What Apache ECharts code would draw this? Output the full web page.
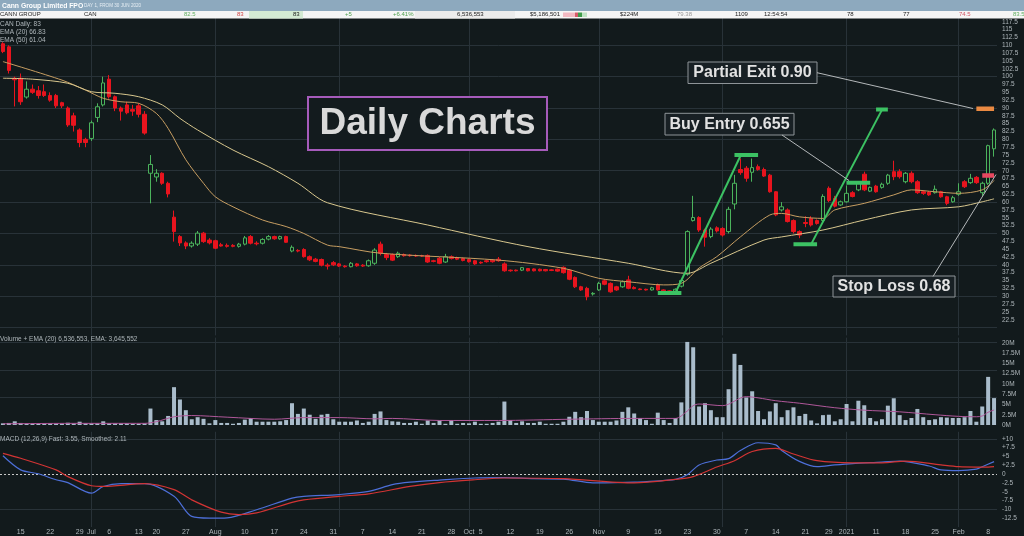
<!DOCTYPE html>
<html><head><meta charset="utf-8">
<script src="https://cdn.jsdelivr.net/npm/echarts@6/dist/echarts.min.js"></script>
<style>html,body{margin:0;padding:0;background:#121a1c;}#c{width:1024px;height:536px;}</style>
</head><body><div id="c"></div>
<script>
// ---------- DATA ----------
const tradingDays = [
  ['2020-06', [10,11,12,15,16,17,18,19,22,23,24,25,26,29,30]],
  ['2020-07', [1,2,3,6,7,8,9,10,15,16,17,20,21,22,23,24,27,28,29,30,31]],
  ['2020-08', [3,4,5,6,7,10,11,12,13,14,17,18,19,20,21,24,25,26,27,28,31]],
  ['2020-09', [1,2,3,4,7,8,9,10,11,14,15,16,17,18,21,22,23,24,25,28,29,30]],
  ['2020-10', [1,2,5,6,7,8,9,12,13,14,15,16,19,20,21,22,23,26,27,28,29,30]],
  ['2020-11', [2,3,4,5,6,9,10,11,12,13,16,17,18,19,20,23,24,25,26,27,30]],
  ['2020-12', [1,2,3,4,7,8,9,10,11,14,15,16,17,18,21,22,23,24,29,30,31]],
  ['2021-01', [4,5,6,7,8,11,12,13,14,15,18,19,20,21,22,25,27,28,29]],
  ['2021-02', [1,2,3,4,5,8,9]]
];
const dates = [];
tradingDays.forEach(([m, ds]) => ds.forEach(d => dates.push(m + '-' + String(d).padStart(2, '0'))));

// [open, close, low, high]
const candles = [
[110.5,108,107.5,111],[109.5,102,101,110],[99.5,99,90.5,100],[99.5,92,91,101],[93.5,96,93,98.5],
[96,95,94.5,97.5],[95.5,94,93,97],[95.2,94,93.5,97.5],[94,92.5,92,95],[94,90.7,90,94.5],
[91.7,90.7,90,92],[90,84.6,84,90.5],[87.5,84.5,82.5,88.5],[83,79,77.5,83.5],[80,79,77.5,80.5],
[80.3,85.3,79.5,86],[87,90.4,85.5,91.5],[91,98,90.5,100],[99.2,93.6,93,100.5],[93.6,90,89,94],
[90,89,86,90.5],[91,88.5,88,92],[89.5,89,87.5,91],[90.7,88,87,91.5],[88,82,81.5,89],
[69.2,72,59.6,75],[68,69.2,66.5,70.5],[69.2,66,65.5,69.5],[66,62.6,61.5,66.5],[55.2,50.6,47.4,57.3],
[49,47,46,49.5],[47,46,45,47.5],[46,46.9,45.5,47.5],[46.6,50.1,46,50.8],[50.1,47.4,47,50.5],
[47.9,47,46.5,48.5],[47.7,45.3,45,48],[46.4,46,45.8,47],[46.2,45.9,45.5,46.8],[46.2,45.9,45.6,46.6],
[45.9,46.6,45.5,47],[46.6,48.6,46.2,49.2],[49,46.9,46.5,49.5],[46.9,46.7,46.2,47.5],[46.9,48.1,46.5,48.5],
[48.2,49,47.8,49.5],[49,48.3,48,49.3],[48.3,49,48,49.3],[49,47.2,47,49.3],[44.4,45.6,44,46.2],
[44.6,44.4,44,45],[44.9,42.6,42.3,45.3],[42.6,41.6,41.2,43],[41.8,41.1,40.8,42.2],[41.7,39.9,39.5,42],
[39.9,39.6,38.5,40.5],[40.7,40,39.6,41.2],[40.3,39.6,39.3,40.6],[39.6,39.4,39.1,39.9],[39.4,40.5,39.2,40.9],
[40.3,39.7,39.4,40.6],[39.9,39.6,39.3,40.2],[39.7,41.3,39.4,41.7],[40.5,44.7,40,45.3],[46.6,43.7,43,47.4],
[43.3,42.3,41.5,43.8],[43.3,41.5,41.2,43.6],[42.6,43.7,42.2,44.2],[43.3,42.9,42.6,43.6],[43.1,42.9,42.6,43.4],
[43,42.8,42.5,43.3],[42.9,42.8,42.5,43.2],[43,40.9,40.6,43.3],[41.3,41.1,40.8,41.6],[42.1,40.5,40.2,42.5],
[40.9,42.6,40.6,43.5],[42.6,42,41.7,43],[42.3,41.8,41.5,42.6],[42,41.4,41.1,42.3],[41.7,41,40.7,42],
[41.3,40.3,40,41.6],[40.8,40.6,40.3,41.1],[41.3,41,40.7,41.6],[41.5,41,40.7,41.8],[41.8,41.3,41,42.5],
[40.3,38.1,37.8,40.8],[38.3,38.1,37.8,38.5],[38.3,38.1,37.9,38.5],[38.3,39.1,38,39.3],[38.8,38.1,37.9,39],
[38.7,38.1,37.9,38.9],[38.6,38.1,37.9,38.8],[38.5,38.1,37.9,38.7],[38.4,38.2,38,38.6],[38.6,38,37.8,38.8],
[39.2,37.5,37.2,39.5],[38.3,35.4,35.1,38.6],[36,33,32.6,36.3],[33,32,31.7,33.3],[32.5,29.8,28.7,33],
[30.7,30.9,30.2,31.3],[32,34.1,31.7,34.6],[34.9,33.8,33.5,35.3],[34.1,31.4,31.1,34.4],[33,32,31.7,33.3],
[33,34.6,32.7,35],[35.2,32.5,32.2,36.5],[32.8,32.4,32.2,33.2],[32.3,32.1,31.9,32.5],[32.2,32,31.8,32.4],
[32,32.7,31.8,33],[33.6,32,31.8,34],[32,31.7,31.5,32.2],[31.7,31.5,31.2,31.9],[31.6,32.2,31.4,32.5],
[33.2,35,32.8,35.5],[37,50.6,36.5,51],[54.1,55.1,53.8,62],[55.1,51.1,50.5,55.5],[51.1,48.8,45.8,51.5],
[49,51.4,48.5,52],[51.8,50.8,50.3,52.3],[51.6,49.5,49,52],[50.6,57.7,50,58.5],[59.4,66,57.7,68.7],
[70.4,69.4,68.7,73.9],[70.8,67.6,66.5,71.5],[69.5,71,66.5,73.9],[71.3,70.4,70,72],[70.4,68.3,68,71],
[68.6,63.3,63,69],[63.3,55.9,55.5,63.5],[57.5,58.5,57,60],[57.5,53.8,53.5,58],[54.1,50.6,50,54.5],
[50.6,49.5,48.5,51],[53.5,53.2,52,55.5],[54.8,52.7,52.2,55.5],[54.1,53.2,52.8,54.5],[54.1,61.8,53.5,62.5],
[64.4,60.5,60,65],[61.2,58.7,58.3,62],[59.1,60.1,58.8,60.5],[60.1,62.8,59.8,65.3],[63,61.8,61.5,63.5],
[63.9,66,63.5,66.5],[68.9,63.9,63.5,69.7],[63.5,64.7,63.2,65],[65.1,63.3,63,65.5],[64.7,65.7,64.3,66.2],
[66,68.6,65.5,69],[69.7,68.1,67,73.2],[69.7,68.1,67.5,70.5],[66.5,69.2,66,69.6],[69.2,66.5,66,69.8],
[66.5,63,62.6,67],[63.3,62.8,62.3,63.8],[63.2,62.3,62,63.5],[63,64.1,62.7,65.3],[63.3,61.7,61.4,63.6],
[61.7,59.6,59,62],[60.1,61.4,59.8,62],[62.5,63.3,62,66],[66.5,64.9,64.5,67],[66.2,67.6,65.8,69],
[67.9,66.2,65.8,68.3],[63,66,62,66.5],[66,78,65.5,78.3],[77,83,74.5,83.5]
];

// volume, millions
const volumes = [
0.4,0.5,0.9,0.5,0.3,0.3,0.3,0.3,0.3,0.3,
0.3,0.55,0.4,0.8,0.4,0.4,0.4,0.9,0.4,0.4,
0.4,0.4,0.25,0.25,0.4,4.0,1.2,0.9,2.2,9.2,
6.2,3.6,1.4,1.9,1.5,0.4,1.2,0.5,0.5,0.3,
0.5,1.3,1.7,0.8,0.8,0.8,0.8,0.9,1.2,5.3,
2.7,4.0,2.5,1.5,2.5,2.7,1.4,0.8,0.8,0.8,
1.1,0.5,0.8,2.7,3.3,1.2,0.9,0.8,0.5,0.5,
0.8,0.3,1.1,0.5,1.1,0.3,1.2,0.3,0.5,0.4,
0.8,0.3,0.3,0.5,0.8,5.7,1.2,0.5,0.9,0.5,
0.5,0.8,0.3,0.3,0.3,0.8,2.0,3.2,1.9,3.4,
1.2,0.8,0.8,0.8,1.1,3.2,4.3,2.8,1.7,1.2,
0.3,3.0,1.2,0.5,1.7,5.5,20.2,18.9,4.5,5.3,
3.6,1.9,1.9,8.7,17.3,14.6,6.7,8.2,3.4,1.4,
3.3,5.3,1.9,3.6,4.3,2.2,2.7,1.1,0.4,2.4,
2.5,0.9,1.4,5.1,0.9,5.9,4.8,1.7,0.9,1.4,
4.7,6.5,2.4,1.2,1.7,3.9,1.9,1.2,1.4,1.9,
1.8,1.7,1.7,1.9,3.4,0.8,4.5,11.7,6.54
];

// indicator readings [bar index, value]
const ema20 = [[0,104.8],[10,98.9],[14,95.7],[17,93.1],[20,92.0],[23,91.5],[26,88.3],[28,83.5],[31,73.5],[34,66],[36,61.7],[39,58.5],[44,54.3],[48,52.2],[51,50.0],[55,46.3],[57,45.8],[64,43.7],[84,41.5],[95,38.9],[101,35.7],[106,34.6],[112,33.6],[115,34.1],[118,39],[121,42.6],[125,48.9],[130,55.9],[132,56.4],[135,55.3],[139,54.8],[141,57.5],[146,59.6],[151,62.3],[154,63.9],[158,63.3],[162,62.8],[166,63.9],[168,66.83]];
const ema50 = [[0,99.5],[5,99.2],[11,97.9],[15,95.2],[19,94.7],[23,93.6],[27,91.0],[30,86.7],[33,83],[39,76.6],[45,71.3],[50,66],[55,59.8],[72,52.7],[89,45.8],[106,40.5],[116,37.3],[120,40.5],[129,47.9],[132,48.9],[139,51.1],[146,54.3],[154,57.5],[162,58.5],[166,60.1],[168,61.04]];
const volEma = [[0,0.3],[12,0.4],[24,0.4],[26,0.8],[29,2.0],[32,2.3],[38,1.9],[46,1.4],[51,1.8],[57,1.8],[63,1.5],[66,1.6],[74,1.1],[84,1.1],[96,1.4],[107,1.6],[114,1.6],[116,3.4],[117,4.7],[118,5.1],[122,4.7],[126,6.9],[128,6.6],[131,5.9],[135,5.3],[141,4.2],[146,3.6],[152,3.2],[158,2.5],[162,2.1],[165,2.0],[166,2.2],[167,3.1],[168,3.65]];
const macdFast = [[0,5.2],[3,1.2],[6,0.1],[9,-1.6],[11,-2.4],[15,-5.4],[17,-3.5],[20,-2.7],[24,-2.7],[29,-6.3],[32,-12],[35,-12.5],[38,-12.4],[43,-10.1],[49,-6.8],[51,-6.3],[57,-5.8],[62,-4.9],[66,-3.0],[69,-2.3],[74,-1.7],[80,-1.1],[85,-1.0],[90,-1.3],[95,-1.4],[100,-2.5],[107,-2.3],[114,-1.5],[116,-0.2],[118,2.6],[121,4.0],[123,4.4],[125,6.7],[128,8.9],[131,8.3],[132,6.7],[135,3.6],[138,2.1],[141,2.6],[144,3.0],[149,3.4],[152,3.7],[157,2.3],[159,1.2],[162,1.0],[165,1.4],[166,2.1],[168,3.55]];
const macdSignal = [[0,5.9],[3,4.5],[9,1.2],[11,-0.7],[15,-3.3],[17,-3.5],[24,-2.7],[29,-4.4],[32,-7.3],[37,-10.8],[40,-11.5],[43,-11],[49,-8],[51,-7.3],[57,-6.3],[62,-5.6],[69,-3.5],[74,-2.4],[80,-1.6],[85,-1.1],[95,-1.3],[107,-2.5],[114,-1.5],[117,-0.7],[121,2.0],[124,3.8],[127,6.4],[131,7.3],[134,5.7],[138,3.8],[144,3.2],[149,3.2],[153,3.7],[159,2.6],[162,2.1],[165,2.0],[167,2.0],[168,2.11]];

// tick labels
const xLabels = {'2020-06-15':'15','2020-06-22':'22','2020-06-29':'29','2020-07-01':'Jul','2020-07-06':'6','2020-07-15':'13','2020-07-20':'20','2020-07-27':'27','2020-08-03':'Aug','2020-08-10':'10','2020-08-17':'17','2020-08-24':'24','2020-08-31':'31','2020-09-07':'7','2020-09-14':'14','2020-09-21':'21','2020-09-28':'28','2020-10-01':'Oct','2020-10-05':'5','2020-10-12':'12','2020-10-19':'19','2020-10-26':'26','2020-11-02':'Nov','2020-11-09':'9','2020-11-16':'16','2020-11-23':'23','2020-11-30':'30','2020-12-07':'7','2020-12-14':'14','2020-12-21':'21','2020-12-29':'29','2021-01-04':'2021','2021-01-11':'11','2021-01-18':'18','2021-01-25':'25','2021-02-01':'Feb','2021-02-08':'8'};
const monthStarts = ['2020-07-01','2020-08-03','2020-09-01','2020-10-01','2020-11-02','2020-12-01','2021-01-04','2021-02-01'];
const priceGridValues = [20,30,40,50,60,70,80,90,100,110];
const volGridValues = [20/3, 40/3, 20];
const macdGridValues = [10, -10];

// annotations (bar index, price)
const trend1 = [[114,31.1],[125,74.7]];
const base1 = [[111,31],[115,31]];
const top1 = [[124,75],[128,75]];
const trend2 = [[137,46.6],[149,89.4]];
const base2 = [[134,46.6],[138,46.6]];
const top2 = [[148,89.5],[150,89.5]];
const buyEntry = [[143,66.2],[147,66.2]];
const partialExit = [[165,89.8],[168,89.8]];
const stopLoss = [[166,68.5],[168,68.5]];

// ---------- CHART ----------
const FONT = '"Liberation Sans", Arial, sans-serif';
const GRIDC = '#283238';
const AXC = '#aeb6ba';
const isStep = v => Math.abs(v / 2.5 - Math.round(v / 2.5)) < 1e-6;
const toCat = arr => arr.map(([k, v]) => [dates[k], v]);
const monthLines = monthStarts.map(d => ({ xAxis: d }));
const gridMark = (ys, extra) => ({
  silent: true, symbol: 'none', z: 0, animation: false, label: { show: false },
  lineStyle: { color: GRIDC, width: 1, type: 'solid' },
  data: ys.map(v => ({ yAxis: v })).concat(monthLines).concat(extra || [])
});
const annot = (pts, color, width) => ({
  type: 'line', xAxisIndex: 0, yAxisIndex: 0, data: toCat(pts), symbol: 'none', silent: true,
  lineStyle: { color, width }, z: 6, animation: false
});
const ind = (pts, xi, yi, color, width) => ({
  type: 'line', xAxisIndex: xi, yAxisIndex: yi, data: toCat(pts), symbol: 'none', smooth: 0.3,
  silent: true, lineStyle: { color, width }, z: 4, animation: false
});

const txt = (x, y, text, fill, size, weight, align) => ({
  type: 'text', x, y, silent: true, z: 100,
  style: { text, fill, font: `${weight || 'normal'} ${size}px ${FONT}`, align: align || 'left', verticalAlign: 'middle' }
});
const rect = (x, y, w, h, fill, stroke, lw) => ({
  type: 'rect', silent: true, z: 90, shape: { x, y, width: w, height: h },
  style: { fill, stroke: stroke || null, lineWidth: lw || 0 }
});
const seg = (x1, y1, x2, y2, stroke, lw) => ({
  type: 'line', silent: true, z: 95, shape: { x1, y1, x2, y2 }, style: { stroke, lineWidth: lw || 1 }
});

const graphics = [
  rect(0, 0, 1024, 11, '#8da9be'),
  txt(2, 5.8, 'Cann Group Limited FPO', '#ffffff', 6.8, 'bold'),
  txt(84, 6, 'DAY 1, FROM 30 JUN 2020', '#e6eef4', 4.6),
  rect(0, 11, 1024, 7.5, '#f5f5f5'),
  rect(249, 11, 54, 7.5, '#d3ead3'),
  rect(415, 11, 100, 7.5, '#ececec'),
  txt(0, 14.8, 'CANN GROUP', '#222', 6),
  txt(84, 14.8, 'CAN', '#222', 6),
  txt(184, 14.8, '82.5', '#63b063', 6),
  txt(237, 14.8, '83', '#d04848', 6),
  txt(293, 14.8, '83', '#222', 6),
  txt(345, 14.8, '+5', '#4fa04f', 6),
  txt(393, 14.8, '+6.41%', '#4fa04f', 6),
  txt(457, 14.8, '6,536,553', '#222', 6),
  txt(530, 14.8, '$5,186,501', '#222', 6),
  rect(563, 12.5, 12, 4.5, '#f2b9c2'),
  rect(575, 12.5, 3, 4.5, '#d85a6a'),
  rect(578, 12.5, 4, 4.5, '#3e9c4a'),
  rect(582, 12.5, 5, 4.5, '#bfe3c3'),
  txt(620, 14.8, '$224M', '#222', 6),
  txt(677, 14.8, '79.38', '#9a9a9a', 6),
  txt(735, 14.8, '1109', '#222', 6),
  txt(764, 14.8, '12:54:54', '#222', 6),
  txt(847, 14.8, '78', '#222', 6),
  txt(903, 14.8, '77', '#222', 6),
  txt(959, 14.8, '74.5', '#d45868', 6),
  txt(1013, 14.8, '83.5', '#63b063', 6),
  txt(0, 24.3, 'CAN Daily: 83', AXC, 6.5),
  txt(0, 32.4, 'EMA (20) 66.83', AXC, 6.5),
  txt(0, 40.3, 'EMA (50) 61.04', AXC, 6.5),
  txt(0, 339, 'Volume + EMA (20) 6,536,553, EMA: 3,645,552', AXC, 6.5),
  txt(0, 439.5, 'MACD (12,26,9) Fast: 3.55, Smoothed: 2.11', AXC, 6.5),
  // title box
  rect(308, 97, 239, 53, '#131b1e', '#a65bbb', 2),
  txt(427.5, 124, 'Daily Charts', '#d9d9d9', 37, 'bold', 'center'),
  // connectors
  seg(817, 72.7, 973, 108.5, '#b4b8ba', 1),
  seg(782, 135, 849, 180.5, '#b4b8ba', 1),
  seg(933, 276.5, 996, 174.5, '#b4b8ba', 1),
  // label boxes
  rect(688, 62, 129, 21.5, '#182024', '#8e9498', 1),
  txt(752.5, 73, 'Partial Exit 0.90', '#e2e2e2', 16, 'bold', 'center'),
  rect(665, 113.3, 129, 21.7, '#182024', '#8e9498', 1),
  txt(729.5, 124.3, 'Buy Entry 0.655', '#e2e2e2', 16, 'bold', 'center'),
  rect(833, 276, 122, 21, '#182024', '#8e9498', 1),
  txt(894, 286.7, 'Stop Loss 0.68', '#e2e2e2', 16, 'bold', 'center')
];

const xAxisBase = gi => ({
  type: 'category', gridIndex: gi, data: dates, boundaryGap: true,
  axisLine: { show: false }, axisTick: { show: false }, splitLine: { show: false },
  axisLabel: { show: false }
});
const yAxisBase = (gi, min, max, fmt) => ({
  type: 'value', gridIndex: gi, position: 'right', min, max, interval: 2.5, scale: true,
  axisLine: { show: false }, axisTick: { show: false }, splitLine: { show: false },
  axisLabel: { show: true, color: AXC, fontSize: 6.5, fontFamily: FONT, margin: 5, formatter: fmt, showMinLabel: true, showMaxLabel: true }
});

const xAxes = [xAxisBase(0), xAxisBase(1), xAxisBase(2)];
xAxes[2].axisLabel = {
  show: true, color: AXC, fontSize: 7, fontFamily: FONT, margin: 2,
  interval: (i, v) => xLabels[v] !== undefined,
  formatter: v => xLabels[v] || ''
};

const option = {
  animation: false,
  backgroundColor: '#121a1c',
  textStyle: { fontFamily: FONT },
  grid: [
    { left: 0, top: 18, width: 997, height: 317.4 },
    { left: 0, top: 337.6, width: 997, height: 87.4 },
    { left: 0, top: 431.8, width: 997, height: 95.6 }
  ],
  xAxis: xAxes,
  yAxis: [
    yAxisBase(0, 17.5, 118.7, v => (isStep(v) && v >= 22.4 && v <= 117.6) ? String(v) : ''),
    yAxisBase(1, 0, 21.25, v => (isStep(v) && v <= 20.01) ? v + 'M' : ''),
    yAxisBase(2, -15, 12, v => (isStep(v) && v >= -12.6 && v <= 10.01) ? (v > 0 ? '+' + v : String(v)) : '')
  ],
  graphic: { elements: graphics },
  series: [
    {
      type: 'candlestick', name: 'CAN', xAxisIndex: 0, yAxisIndex: 0, data: candles,
      barWidth: 4, z: 3,
      itemStyle: { color: '#121a1c', color0: '#e8141e', borderColor: '#4bb35c', borderColor0: '#e8141e', borderWidth: 1 },
      markLine: gridMark(priceGridValues)
    },
    ind(ema20, 0, 0, '#c79e62', 1),
    ind(ema50, 0, 0, '#d8c78e', 1),
    annot(trend1, '#3cc263', 2),
    annot(base1, '#3cc263', 4),
    annot(top1, '#3cc263', 4),
    annot(trend2, '#3cc263', 2),
    annot(base2, '#3cc263', 4),
    annot(top2, '#3cc263', 4),
    annot(buyEntry, '#3cc263', 4),
    annot(partialExit, '#ea8a42', 4.5),
    annot(stopLoss, '#e84860', 4.5),
    {
      type: 'bar', name: 'Volume', xAxisIndex: 1, yAxisIndex: 1, data: volumes, barWidth: 4, z: 3,
      itemStyle: { color: '#a9bccb' }, silent: true,
      markLine: gridMark(volGridValues)
    },
    ind(volEma, 1, 1, '#b0589a', 1),
    {
      type: 'line', name: 'MACD', xAxisIndex: 2, yAxisIndex: 2, data: toCat(macdFast), symbol: 'none',
      smooth: 0.3, silent: true, lineStyle: { color: '#4d6fd8', width: 1.2 }, z: 4,
      markLine: gridMark(macdGridValues, [{ yAxis: 0, lineStyle: { color: '#c8c8c8', type: [2, 2], width: 1 } }])
    },
    ind(macdSignal, 2, 2, '#d23434', 1.2)
  ]
};
const chart = echarts.init(document.getElementById('c'));
chart.setOption(option);
</script>
</body></html>
